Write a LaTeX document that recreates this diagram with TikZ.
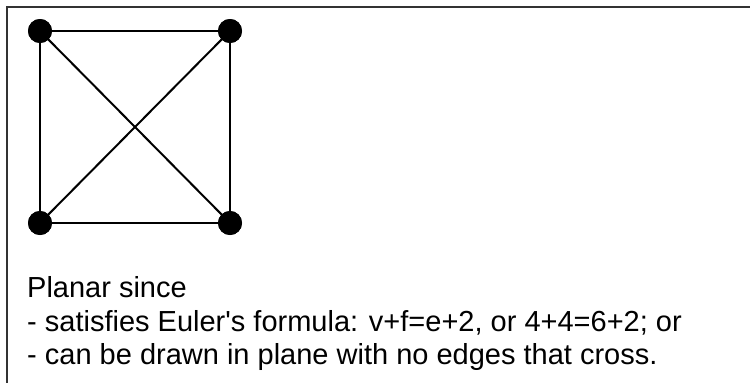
\documentclass[tikz,border=0pt]{standalone}
\usepackage{fontspec}
\setmainfont{Liberation Sans}
\begin{document}
\begin{tikzpicture}[x=1pt,y=-1pt,
  vertex/.style={circle,fill=black,draw=none,minimum size=24pt,inner sep=0pt},
  edge/.style={draw=black,line width=2pt},
  frame/.style={draw=black!80,line width=2pt},
  caption/.style={anchor=base west,inner sep=0pt,font=\fontsize{29}{33.5}\selectfont}]
\useasboundingbox (0,0) rectangle (750,383);
\draw[frame] (6.5,383) -- (6.5,7) -- (750,7);
\node[vertex] (a) at (40,31) {};
\node[vertex] (b) at (230,31) {};
\node[vertex] (c) at (40,223) {};
\node[vertex] (d) at (230,223) {};
\draw[edge] (a.center) -- (b.center) -- (d.center) -- (c.center) -- (a.center);
\draw[edge] (a.center) -- (d.center);
\draw[edge] (b.center) -- (c.center);
\node[vertex] at (a) {};
\node[vertex] at (b) {};
\node[vertex] at (c) {};
\node[vertex] at (d) {};
\node[caption] (t1) at (27,297) {Planar since};
\node[caption] (t2) at (27,331) {- satisfies Euler\textquotesingle s formula: v+f=e+2, or 4+4=6+2; or};
\node[caption] (t3) at (27,364) {- can be drawn in plane with no edges that cross.};
\end{tikzpicture}
\end{document}
